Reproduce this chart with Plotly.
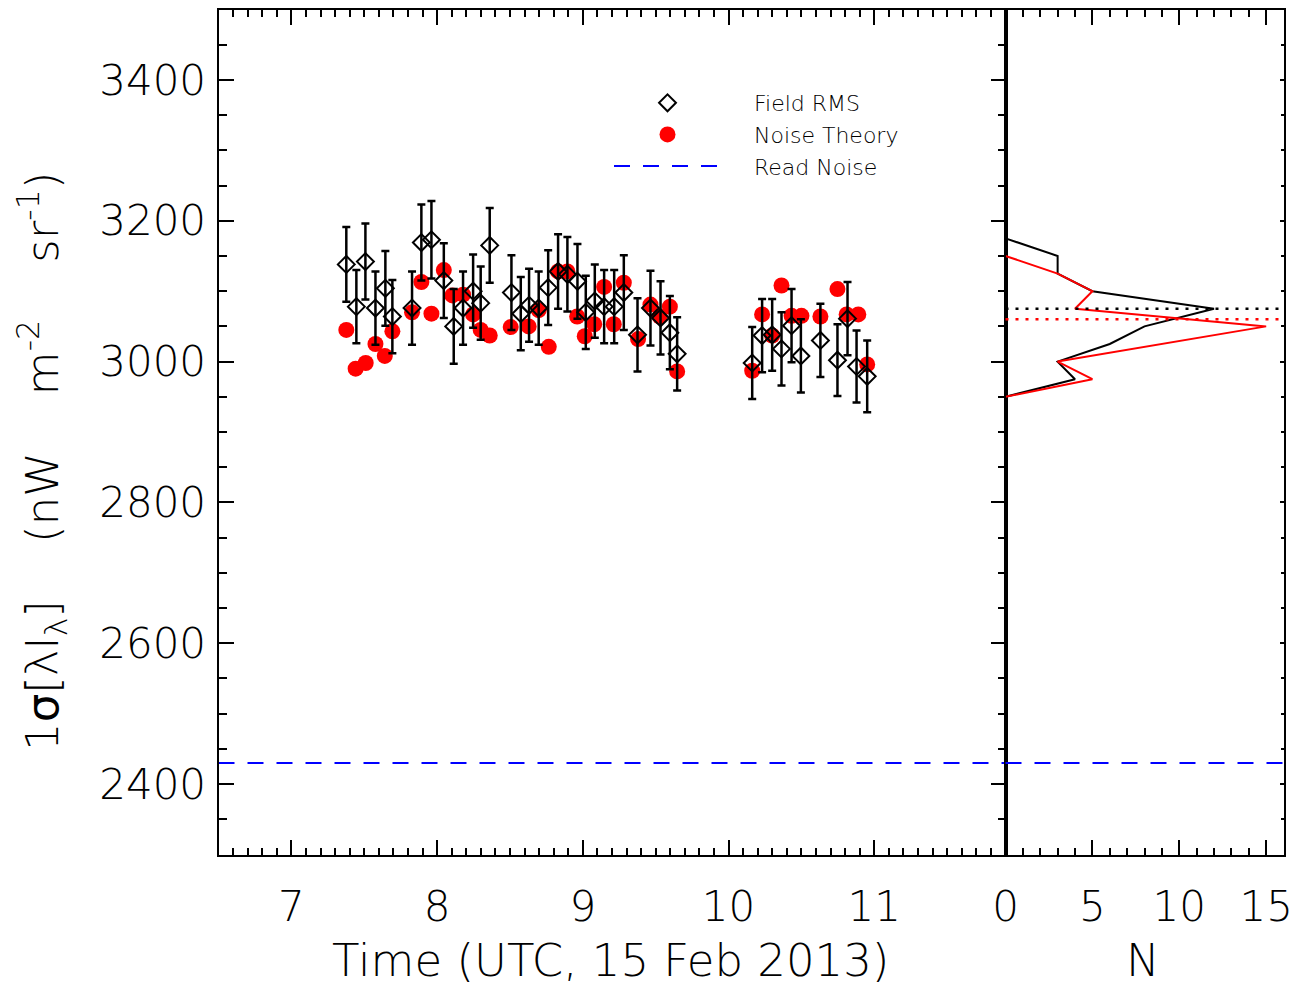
import plotly.graph_objects as go

# ---------------- data ----------------
field_time = [7.377, 7.446, 7.508, 7.577, 7.645, 7.693, 7.828, 7.892, 7.961, 8.046,
              8.114, 8.178, 8.247, 8.299, 8.361, 8.510, 8.574, 8.631, 8.697, 8.762,
              8.830, 8.894, 8.963, 9.020, 9.082, 9.146, 9.215, 9.281, 9.375, 9.464,
              9.533, 9.597, 9.647, 10.162, 10.230, 10.299, 10.363, 10.432, 10.496, 10.630,
              10.747, 10.816, 10.878, 10.951]
field_rms = [3138, 3078, 3142, 3076, 3104, 3064, 3076, 3169, 3173, 3115,
             3050, 3076, 3100, 3083, 3165, 3098, 3068, 3080, 3076, 3105,
             3128, 3124, 3114, 3070, 3086, 3078, 3078, 3098, 3038, 3076,
             3062, 3041, 3011, 2998, 3037, 3038, 3018, 3051, 3008, 3030,
             3002, 3061, 2993, 2979]
field_err = [53, 52, 54, 52, 53, 52, 52, 54, 55, 53,
             53, 52, 52, 52, 53, 53, 52, 52, 52, 53,
             53, 53, 53, 52, 52, 52, 52, 53, 52, 53,
             52, 52, 52, 51, 52, 51, 52, 52, 52, 52,
             51, 52, 51, 51]

noise_time = [7.377, 7.441, 7.510, 7.577, 7.641, 7.693, 7.828, 7.892, 7.961, 8.046,
              8.105, 8.178, 8.247, 8.299, 8.361, 8.505, 8.628, 8.697, 8.766, 8.830,
              8.894, 8.961, 9.013, 9.078, 9.146, 9.212, 9.281, 9.379, 9.464, 9.528,
              9.597, 9.647, 10.162, 10.230, 10.299, 10.363, 10.432, 10.500, 10.630, 10.747,
              10.810, 10.890, 10.951]
noise_theory = [3045, 2990, 2998, 3025, 3008, 3043, 3070, 3113, 3068, 3130,
                3094, 3095, 3067, 3045, 3037, 3049, 3050, 3073, 3021, 3128,
                3128, 3064, 3036, 3053, 3106, 3053, 3112, 3032, 3081, 3064,
                3078, 2986, 2987, 3067, 3037, 3108, 3065, 3065, 3064, 3103,
                3067, 3067, 2996]

read_noise = 2430

hist_level = [3175, 3150, 3125, 3100, 3075, 3050, 3025, 3000, 2975, 2950]
hist_field = [0, 3, 3, 5, 12, 8, 6, 3, 4, 0]
hist_noise = [None, 0, 3, 5, 4, 15, 9, 3, 5, 0]
field_level = 3075
noise_level = 3060

x_ticks = [7, 8, 9, 10, 11]
y_ticks = [2400, 2600, 2800, 3000, 3200, 3400]
n_ticks = [0, 5, 10, 15]

# ---------------- layout constants ----------------
W, H = 1299, 987
x_range = [6.5, 11.9]
y_range = [2300, 3500]
n_range = [0, 16]
FONT = "DejaVu Sans"
WEIGHT = 200
TICKFONT = dict(family=FONT, size=42, color="black", weight=WEIGHT)

x_main = [218.5 / W, 1005.5 / W]
x_hist = [1005.5 / W, 1283.5 / W]
y_dom = [1 - 854.5 / H, 1 - 9.5 / H]

fig = go.Figure()

# Noise theory (drawn first, underneath)
fig.add_trace(go.Scatter(
    x=noise_time, y=noise_theory, mode="markers", name="&nbsp;&nbsp;&nbsp;&nbsp;Noise Theory",
    marker=dict(symbol="circle", size=16, color="#ff0000", line=dict(width=0)),
    legendrank=2, xaxis="x", yaxis="y"))

# Field RMS with error bars
fig.add_trace(go.Scatter(
    x=field_time, y=field_rms, mode="markers", name="&nbsp;&nbsp;&nbsp;&nbsp;Field RMS",
    marker=dict(symbol="diamond-open", size=13, color="black", line=dict(width=2, color="black")),
    error_y=dict(type="data", array=field_err, color="black", thickness=2.5, width=4),
    legendrank=1, xaxis="x", yaxis="y"))

# Read noise line
fig.add_trace(go.Scatter(
    x=x_range, y=[read_noise, read_noise], mode="lines", name="&nbsp;&nbsp;&nbsp;&nbsp;Read Noise",
    line=dict(color="#0000ff", width=2, dash="16px,13px"),
    legendrank=3, xaxis="x", yaxis="y"))

# Histograms
fig.add_trace(go.Scatter(
    x=hist_field, y=hist_level, mode="lines", showlegend=False,
    line=dict(color="black", width=2), xaxis="x2", yaxis="y2"))
fig.add_trace(go.Scatter(
    x=hist_noise, y=hist_level, mode="lines", showlegend=False,
    line=dict(color="#ff0000", width=2), xaxis="x2", yaxis="y2"))

shapes = [
    dict(type="line", xref="x2 domain", yref="y2", x0=0, x1=1, y0=read_noise, y1=read_noise,
         line=dict(color="#0000ff", width=2, dash="16px,13px")),
    dict(type="line", xref="x2 domain", yref="y2", x0=0, x1=1, y0=field_level, y1=field_level,
         line=dict(color="black", width=2.5, dash="3px,7px")),
    dict(type="line", xref="x2 domain", yref="y2", x0=0, x1=1, y0=noise_level, y1=noise_level,
         line=dict(color="#ff0000", width=2.5, dash="3px,7px")),
]

axis_common = dict(showgrid=False, zeroline=False, showline=True, linewidth=2, linecolor="black",
                   tickcolor="black", tickwidth=2, tickfont=TICKFONT, ticks="inside",
                   automargin=False)

NB = "&nbsp;" * 4
ytitle = ("1<span style=\"font-weight:400\">σ</span>[λI<sub>λ</sub>]" + NB + "(nW" + NB +
          "m<sup>-2</sup>" + NB + "sr<sup>-1</sup>)")

fig.update_layout(
    width=W, height=H, autosize=False,
    margin=dict(l=0, r=0, t=0, b=0, autoexpand=False),
    paper_bgcolor="white", plot_bgcolor="white",
    font=dict(family=FONT, color="black", weight=WEIGHT),
    xaxis=dict(domain=x_main, range=x_range, anchor="y", tickvals=x_ticks, ticklen=15,
               mirror="allticks", ticklabelstandoff=14,
               minor=dict(dtick=0.1, tick0=0, ticklen=7, tickwidth=2, tickcolor="black", ticks="inside"),
               **axis_common),
    yaxis=dict(domain=y_dom, range=y_range, anchor="x", tickvals=y_ticks, ticklen=15,
               mirror="allticks", ticklabelstandoff=2,
               minor=dict(dtick=50, tick0=0, ticklen=8, tickwidth=2, tickcolor="black", ticks="inside"),
               **axis_common),
    xaxis2=dict(domain=x_hist, range=n_range, anchor="y2", tickvals=n_ticks, ticklen=15,
                mirror="allticks", ticklabelstandoff=14,
                minor=dict(dtick=1, tick0=0, ticklen=7, tickwidth=2, tickcolor="black", ticks="inside"),
                **axis_common),
    yaxis2=dict(domain=y_dom, range=y_range, anchor="x2", side="right", tickvals=y_ticks,
                ticklen=4, showticklabels=False, mirror=True,
                minor=dict(dtick=50, tick0=0, ticklen=3, tickwidth=2, tickcolor="black", ticks="inside"),
                **axis_common),
    shapes=shapes,
    showlegend=True,
    legend=dict(x=609 / W, y=1 - 82 / H, xanchor="left", yanchor="top",
                font=dict(family=FONT, size=22, color="black", weight=WEIGHT),
                itemwidth=107, bgcolor="rgba(0,0,0,0)", borderwidth=0,
                traceorder="normal", tracegroupgap=0),
    annotations=[
        dict(text="Time (UTC, 15 Feb 2013)", xref="paper", yref="paper",
             x=610 / W, y=1 - 960 / H, xanchor="center", yanchor="middle",
             showarrow=False, font=dict(family=FONT, size=45, color="black", weight=WEIGHT)),
        dict(text="N", xref="paper", yref="paper",
             x=1143 / W, y=1 - 960 / H, xanchor="center", yanchor="middle",
             showarrow=False, font=dict(family=FONT, size=45, color="black", weight=WEIGHT)),
        dict(text=ytitle,
             xref="paper", yref="paper", x=42 / W, y=1 - 462 / H, xanchor="center", yanchor="middle",
             textangle=-90, showarrow=False, font=dict(family=FONT, size=45, color="black", weight=WEIGHT)),
    ],
)

fig.write_html("out.html")
